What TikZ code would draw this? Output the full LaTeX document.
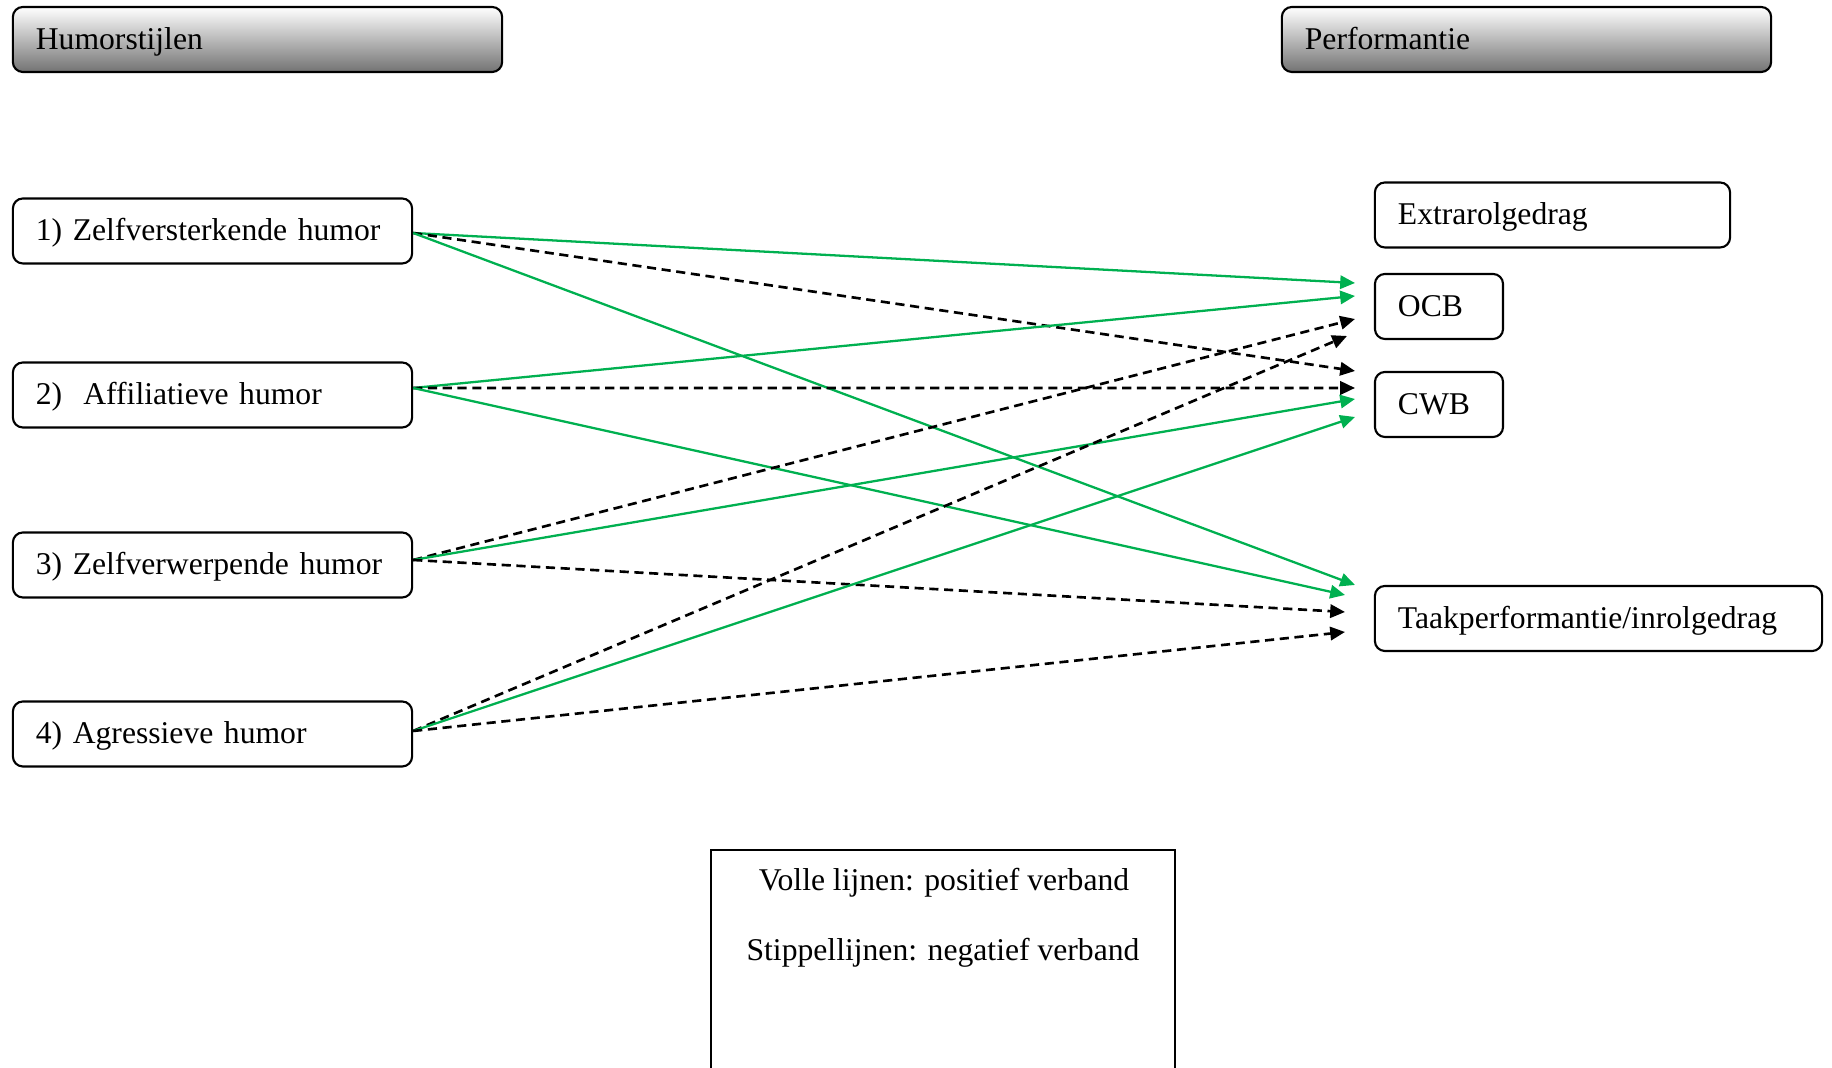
\documentclass[tikz,border=0pt]{standalone}
\usepackage{fontspec}
\setmainfont{Liberation Serif}
\usetikzlibrary{arrows.meta}

\definecolor{posgreen}{HTML}{00B050}

\tikzset{
  box/.style={draw, line width=0.6pt, rounded corners=0.1cm, minimum height=0.65cm,
    inner xsep=0.23cm, inner ysep=0pt, align=left, text width=#1,
    text height=0.75em, text depth=0.2em, font=\fontsize{9}{11}\selectfont},
  headbox/.style={box=#1, top color=white, bottom color=black!55},
  posline/.style={draw=posgreen, line width=0.65pt, -{Triangle[length=4.2pt,width=3.8pt]}},
  negline/.style={draw=black, line width=0.75pt, dash pattern=on 2.6pt off 1.6pt,
    -{Triangle[length=4.2pt,width=3.8pt]}},
}

\begin{document}
\begin{tikzpicture}[x=0.01cm,y=-0.01cm]
\useasboundingbox (0,0) rectangle (1832,1068);

%headers
\node[headbox=4.43cm] (humor) at (257.5,39.5) {Humorstijlen};
\node[headbox=4.43cm] (perf) at (1526.5,39.5) {Performantie};

%humor styles
\node[box=3.53cm] (zelfv) at (212.5,231) {1) Zelfversterkende humor};
\node[box=3.53cm] (affil) at (212.5,395) {2)\ \ Affiliatieve humor};
\node[box=3.53cm] (zelfw) at (212.5,565) {3) Zelfverwerpende humor};
\node[box=3.53cm] (agres) at (212.5,734) {4) Agressieve humor};

%performance
\node[box=3.09cm] (extra) at (1552.5,215) {Extrarolgedrag};
\node[box=0.82cm] (ocb) at (1439,306.5) {OCB};
\node[box=0.82cm] (cwb) at (1439,404.5) {CWB};
\node[box=4.01cm] (taak) at (1598.5,618.5) {Taakperformantie/inrolgedrag};

%arrow ends
\coordinate (ocb1) at (1355,283);
\coordinate (ocb2) at (1355,296);
\coordinate (ocb3) at (1355,319);
\coordinate (ocb4) at (1347,336);
\coordinate (cwb1) at (1355,371);
\coordinate (cwb2) at (1355,388);
\coordinate (cwb3) at (1355,399);
\coordinate (cwb4) at (1355,417);
\coordinate (taak1) at (1355,585);
\coordinate (taak2) at (1345,595);
\coordinate (taak3) at (1345,612);
\coordinate (taak4) at (1345,632);

%arrows
\draw[posline] ([yshift=-0.02cm]zelfv.east) -- (ocb1);
\draw[negline] ([yshift=-0.02cm]zelfv.east) -- (cwb1);
\draw[posline] ([yshift=-0.02cm]zelfv.east) -- (taak1);

\draw[posline] ([yshift=0.07cm]affil.east) -- (ocb2);
\draw[negline] ([yshift=0.07cm]affil.east) -- (cwb2);
\draw[posline] ([yshift=0.07cm]affil.east) -- (taak2);

\draw[negline] ([yshift=0.05cm]zelfw.east) -- (ocb3);
\draw[posline] ([yshift=0.05cm]zelfw.east) -- (cwb3);
\draw[negline] ([yshift=0.05cm]zelfw.east) -- (taak3);

\draw[negline] ([yshift=0.03cm]agres.east) -- (ocb4);
\draw[posline] ([yshift=0.03cm]agres.east) -- (cwb4);
\draw[negline] ([yshift=0.03cm]agres.east) -- (taak4);

%legend
\draw[line width=0.6pt] (711,1068) -- (711,850) -- (1175,850) -- (1175,1068);
\node[anchor=base, font=\fontsize{9}{11}\selectfont] (vol) at (944,891) {Volle lijnen: positief verband};
\node[anchor=base, font=\fontsize{9}{11}\selectfont] (stip) at (943,961) {Stippellijnen: negatief verband};

\end{tikzpicture}
\end{document}
